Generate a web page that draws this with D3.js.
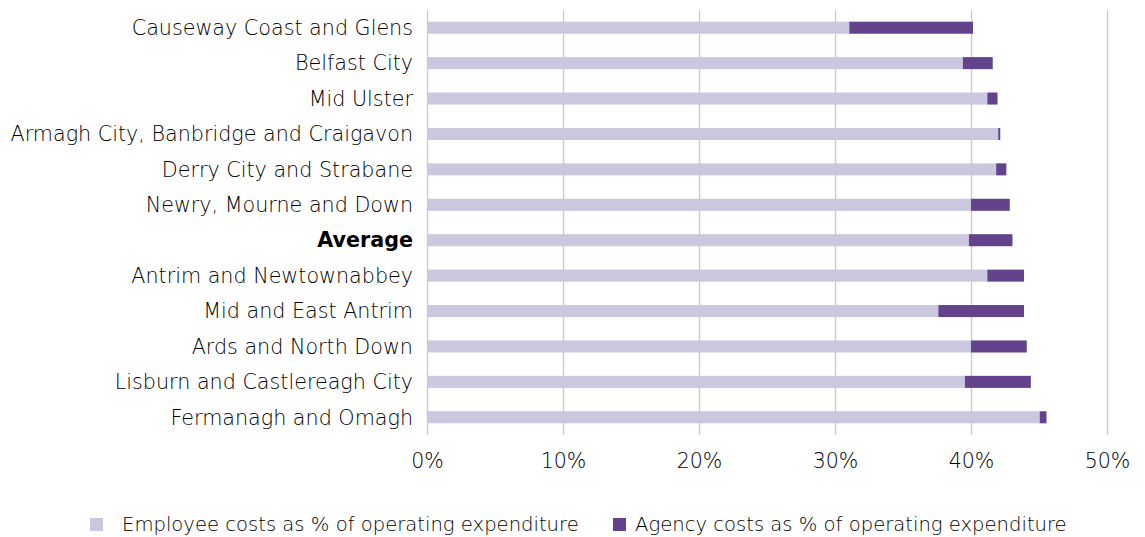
<!DOCTYPE html>
<html>
<head>
<meta charset="utf-8">
<script src="https://cdn.jsdelivr.net/npm/d3@7"></script>
<style>
  body { margin: 0; background: #fff; }
  text { font-family: "DejaVu Sans", sans-serif; font-weight: 200; fill: #000; }
</style>
</head>
<body>
<script>
var w = 1145, h = 537;
var margin = {top: 10, right: 38, bottom: 102, left: 427};
var innerW = w - margin.left - margin.right,
    innerH = h - margin.top - margin.bottom;

// data
var councils = ['Causeway Coast and Glens', 'Belfast City', 'Mid Ulster',
  'Armagh City, Banbridge and Craigavon', 'Derry City and Strabane',
  'Newry, Mourne and Down', 'Average', 'Antrim and Newtownabbey',
  'Mid and East Antrim', 'Ards and North Down', 'Lisburn and Castlereagh City',
  'Fermanagh and Omagh'];
var employee = [31.05, 39.4, 41.2, 42.0, 41.85, 40.0, 39.85, 41.2, 37.6, 40.0, 39.55, 45.05];
var agency   = [9.1, 2.2, 0.75, 0.15, 0.75, 2.85, 3.2, 2.7, 6.3, 4.1, 4.85, 0.5];
var ticks = [0, 0.1, 0.2, 0.3, 0.4, 0.5];
var seriesNames = ['Employee costs as % of operating expenditure',
  'Agency costs as % of operating expenditure'];
var colors = ['#cbc7df', '#63438c'];

var rows = councils.map(function(c, i) {
  return {name: c, employee: employee[i] / 100, agency: agency[i] / 100};
});

var svg = d3.select('body').append('svg')
    .attr('width', w)
    .attr('height', h)
  .append('g')
    .attr('transform', 'translate(' + [margin.left, margin.top] + ')');

var x = d3.scaleLinear().domain([0, 0.5]).range([0, innerW]);
var y = d3.scaleBand().domain(councils).range([0, innerH]).paddingInner(0.66).paddingOuter(0.33);

// gridlines
svg.append('g').selectAll('line')
    .data(ticks)
    .enter().append('line')
    .attr('x1', function(d) { return Math.round(x(d)) + 0.5; })
    .attr('x2', function(d) { return Math.round(x(d)) + 0.5; })
    .attr('y1', 0)
    .attr('y2', innerH)
    .style('stroke', '#c8c8c8')
    .style('stroke-width', 1.3);

var stack = d3.stack().keys(['employee', 'agency'])(rows);

svg.append('g').selectAll('g')
    .data(stack)
    .enter().append('g')
    .style('fill', function(d, i) { return colors[i]; })
  .selectAll('rect')
    .data(function(d) { return d; })
    .enter().append('rect')
    .attr('x', function(d) { return x(d[0]); })
    .attr('width', function(d) { return x(d[1]) - x(d[0]); })
    .attr('y', function(d) { return y(d.data.name); })
    .attr('height', y.bandwidth());

// category labels
svg.append('g').selectAll('text')
    .data(councils)
    .enter().append('text')
    .attr('x', -14)
    .attr('y', function(d) { return y(d) + y.bandwidth() / 2; })
    .attr('dy', '0.35em')
    .attr('text-anchor', 'end')
    .style('font-size', '20.7px')
    .style('font-weight', function(d) { return d === 'Average' ? 'bold' : null; })
    .text(function(d) { return d; });

// x axis
var xAxis = svg.append('g')
    .attr('transform', 'translate(0,' + innerH + ')')
    .call(d3.axisBottom(x).tickValues(ticks).tickFormat(d3.format('.0%')).tickSize(0).tickPadding(18));
xAxis.select('.domain').remove();
xAxis.selectAll('text')
    .style('font-size', '20.5px')
    .style('font-family', '"DejaVu Sans", sans-serif')
    .attr('fill', '#000');

// legend
var legend = d3.select('svg').append('g')
    .attr('transform', 'translate(0,' + 524 + ')');
var lx = [90, 613];
var item = legend.selectAll('g')
    .data(seriesNames)
    .enter().append('g')
    .attr('transform', function(d, i) { return 'translate(' + lx[i] + ',0)'; });
item.append('rect')
    .attr('x', 0).attr('y', -6)
    .attr('width', 13).attr('height', 13)
    .style('fill', function(d, i) { return colors[i]; });
item.append('text')
    .attr('x', function(d, i) { return i === 0 ? 32 : 22; })
    .attr('dy', '0.35em')
    .style('font-size', '19.6px')
    .text(function(d) { return d; });
</script>
</body>
</html>
